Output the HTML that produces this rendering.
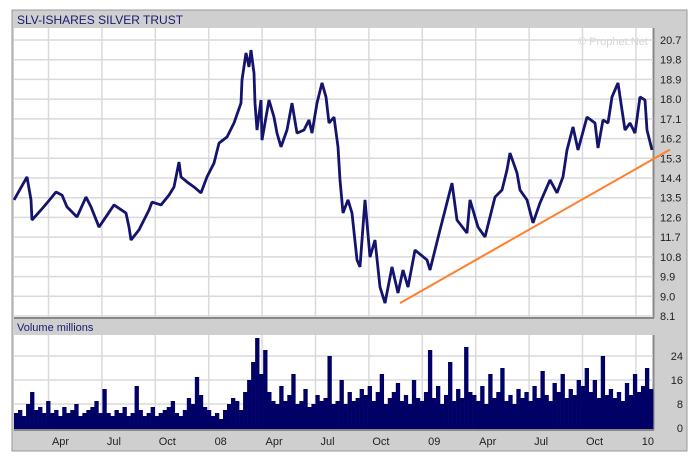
<!DOCTYPE html>
<html><head><meta charset="utf-8"><style>
body{margin:0;background:#fff;width:693px;height:456px;overflow:hidden;font-family:"Liberation Sans",sans-serif}
</style></head><body>
<svg id="c" width="693" height="456" style="position:absolute;left:0;top:0">
<rect x="12" y="10" width="675" height="441" fill="#cfcfcf" stroke="#9a9a9a"/>
<text x="17" y="24" font-size="12" fill="#1a1a6e">SLV-ISHARES SILVER TRUST</text>
<rect x="14" y="28" width="639" height="289" fill="#fff"/>
<line x1="653.5" y1="28" x2="653.5" y2="318" stroke="#888" stroke-width="2"/>
<line x1="14" y1="318" x2="654" y2="318" stroke="#888" stroke-width="2"/>
<text x="17" y="331" font-size="11" fill="#1a1a6e">Volume  millions</text>
<rect x="14" y="335" width="639" height="94" fill="#fff"/>
<line x1="653.5" y1="335" x2="653.5" y2="430" stroke="#888" stroke-width="2"/>
<line x1="14" y1="430" x2="654" y2="430" stroke="#888" stroke-width="2"/>
<text x="578" y="45" font-size="11" fill="#d4d4d4">© Prophet.Net</text>
<g id="grid"></g><g id="vol"></g><g id="price"></g><g id="labels"></g>
</svg>
<script>
const priceTicks=["20.7","19.8","18.9","18.0","17.1","16.2","15.3","14.4","13.5","12.6","11.7","10.8","9.9","9.0","8.1"];
const volTicks=[0,8,16,24];
const monthLabels=["Apr","Jul","Oct","08","Apr","Jul","Oct","09","Apr","Jul","Oct","10"];
const weeks=[0,3.25,4.25,4.5,6.75,8.25,10.5,12,13.25,15.75,18,19.25,21.25,25,28,28.75,29.25,31.25,33.75,34.5,36.75,38.75,40,41.25,41.75,43.25,45,46.75,48.25,50,51.25,53.25,55,56.75,57,58,58.75,59.25,60,60.25,60.75,61.75,62,63.75,65,65.75,66.75,68.25,69.5,70.75,72.5,73.75,74.5,75.75,77,78,78.75,80,81,81.5,82.25,83.5,84.5,85.75,86.5,87.75,89,90.25,91.5,92.75,94.5,96,97.25,98.5,100.25,103.25,104,106.5,109.5,110.75,113.25,114,116,117.75,119,120.25,122,123.25,124,125.75,126.5,128.25,129.75,131.5,134,135.75,137.25,138.25,139.75,141,143.25,145.25,146,147.25,148.5,149.5,151,152,152.75,154,155.25,156.5,157.75,158.25,159.5];
const prices=[13.40,14.45,13.40,12.48,12.94,13.26,13.76,13.62,13.08,12.62,13.53,13.08,12.16,13.17,12.80,12.16,11.57,12.03,12.94,13.30,13.17,13.62,13.99,15.13,14.45,14.22,13.99,13.72,14.45,15.08,15.99,16.27,16.91,17.82,18.87,20.11,19.47,20.24,19.19,17.82,16.59,17.96,16.13,17.96,17.18,16.45,15.82,16.59,17.82,16.45,16.59,17.05,16.45,17.82,18.74,18.10,16.91,17.18,15.82,14.31,12.80,13.40,12.80,10.66,10.34,13.40,10.79,11.57,9.42,8.69,10.34,9.15,10.20,9.42,11.11,10.66,10.20,12.03,14.17,12.48,11.89,13.40,12.16,11.71,12.62,13.53,13.85,14.77,15.54,14.63,13.85,13.40,12.35,13.26,14.31,13.72,14.45,15.68,16.73,15.68,17.18,16.91,15.77,17.05,16.91,18.10,18.74,17.50,16.59,16.91,16.45,18.10,17.96,16.59,15.68];
const volumes=[5,6,4,8,12,6,7,5,9, 5,6,4,7,5,6,8,4,5,6,7,9,5, 13,5,4,6,5,7,4,5,14,6,4,5,7, 4,5,6,7,9,5,4,6,10,8,17,11,7, 6,4,5,3,6,8,10,9,6,12,16,22,30, 18,26,12,9,8,14,9,11,18,8,9,13,7, 8,11,9,10,24,8,9,16,8,12,9,10,13,11, 14,9,12,18,8,10,12,15,9,11,8,16,10, 9,12,26,10,14,8,11,22,9,13,10,27,12, 11,9,14,8,18,10,12,20,9,11,8,13,10, 12,9,14,10,19,11,9,15,12,18,10,13,11,16, 14,20,12,16,10,24,11,13,10,12,9,15,11, 18,12,14,20,13];
const trendWeeks=[96.5,164];
const trendPrices=[8.69,15.70];

const NS="http://www.w3.org/2000/svg";
const x=w=>14+w*4;
const y=p=>40+(20.7-p)*(276/12.6);
const yv=v=>428-v*3;
function mk(t,a,parent){const e=document.createElementNS(NS,t);for(const k in a)e.setAttribute(k,a[k]);parent.appendChild(e);return e;}
const G=document.getElementById('grid'),V=document.getElementById('vol'),P=document.getElementById('price'),L=document.getElementById('labels');
priceTicks.forEach(t=>{const yy=y(parseFloat(t));
 const g=mk('line',{x1:14,x2:653,y1:yy,y2:yy,stroke:'#dadada','stroke-width':1.5},G);
 
 
 const tx=mk('text',{x:660,y:yy+4,'font-size':11,fill:'#222'},L);tx.textContent=t;
 
 });
volTicks.forEach(t=>{const yy=yv(t);
 if(t>0){const g=mk('line',{x1:14,x2:653,y1:yy,y2:yy,stroke:'#dadada','stroke-width':1.5},G);
 
 }
 const tx=mk('text',{x:683,y:yy+4,'font-size':11,fill:'#222','text-anchor':'end'},L);tx.textContent=t;
 
 });
monthLabels.forEach((m,i)=>{const gx=48.5+53.4*i;
 [[28,317],[335,429]].forEach(r=>{const g=mk('line',{x1:gx,x2:gx,y1:r[0],y2:r[1],stroke:'#dadada','stroke-width':1.5},G);
 
 });
 const tx=mk('text',{x:gx+12,y:445,'font-size':11,fill:'#222','text-anchor':'middle'},L);tx.textContent=m;
 
 });
const bw=639/volumes.length;
volumes.forEach((v,i)=>{const r=mk('rect',{x:14+i*bw,y:yv(v),width:bw+0.3,height:428-yv(v)+1,fill:'#000066'},V);
 
 });
const pl=mk('polyline',{points:weeks.map((w,i)=>x(w)+','+y(prices[i])).join(' '),fill:'none',stroke:'#14146e','stroke-width':2.8,'stroke-linejoin':'bevel'},P);


const tl=mk('line',{x1:x(trendWeeks[0]),y1:y(trendPrices[0]),x2:x(trendWeeks[1]),y2:y(trendPrices[1]),stroke:'#ff7f2a','stroke-width':2},P);


</script>
</body></html>
